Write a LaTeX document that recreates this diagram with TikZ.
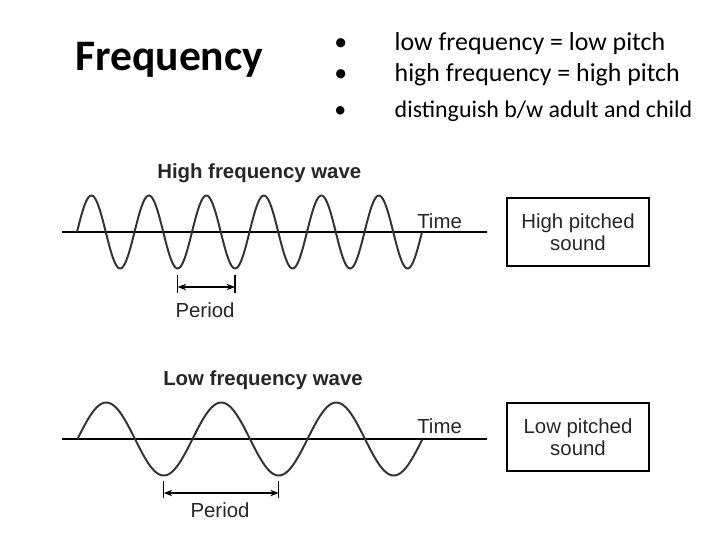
\documentclass[tikz,border=0pt]{standalone}
\usepackage{fontspec}
\setmainfont{Carlito}
\newfontfamily\diagfont{Liberation Sans}
\usetikzlibrary{arrows.meta, positioning}
\tikzset{
  wave/.style={
    draw=black!80,
    line width=1.4pt
  },
  timeaxis/.style={
    draw=black,
    line width=1pt
  },
  wavelabel/.style={
    inner sep=0pt,
    text=black!85,
    font=\diagfont\fontsize{14.5}{16}\selectfont
  },
  wavetitle/.style={
    wavelabel,
    font=\diagfont\bfseries\fontsize{14.5}{16}\selectfont
  },
  soundbox/.style={
    draw,
    line width=0.8pt,
    minimum width=3.55cm,
    minimum height=1.7cm,
    align=center,
    text=black!85,
    font=\diagfont\fontsize{14.5}{15.5}\selectfont
  },
  periodtick/.style={
    line width=1pt
  },
  periodarrow/.style={
    {Stealth[length=6pt,width=4.5pt]}-{Stealth[length=6pt,width=4.5pt]},
    line width=1pt
  },
  bullet/.style={
    anchor=base west,
    inner sep=0pt,
    font=\fontsize{18.4}{22}\selectfont
  }
}
\begin{document}
\begin{tikzpicture}[x=0.025cm, y=-0.025cm]
\useasboundingbox (0,0) rectangle (720,540);

% Heading and bullet points
\node[anchor=base west, inner sep=0pt, font=\bfseries\fontsize{31}{36}\selectfont] (title) at (75,70) {Frequency};
\node[bullet] (b1) at (334,50) {\makebox[43pt][l]{•}low frequency = low pitch};
\node[bullet] (b2) at (334,81) {\makebox[43pt][l]{•}high frequency = high pitch};
\node[bullet, font=\fontsize{17}{20}\selectfont] (b3) at (334,117) {\makebox[43pt][l]{•}distinguish b/w adult and child};

% High frequency wave
\node[wavetitle, anchor=base west] (hititle) at (157,178) {High frequency wave};
\coordinate (hstart) at (62,232);
\coordinate (hend) at (487,232);
\draw[timeaxis] (hstart) -- (hend);
\draw[wave] plot[domain=0:6, samples=240, smooth] ({77+57.5*\x},{232-36.5*sin(360*\x)});
\node[wavelabel, anchor=base west] (hitime) at (417,228) {Time};
\coordinate (hpa) at (177.6,287);
\coordinate (hpb) at (235.1,287);
\draw[periodtick] (hpa) ++(0,-12) -- ++(0,18);
\draw[periodtick] (hpb) ++(0,-12) -- ++(0,18);
\draw[periodarrow] (hpa) -- (hpb);
\node[wavelabel, anchor=base] (hiperiod) at (205,317) {Period};
\node[soundbox] (hibox) at (578,232) {High pitched\\sound};

% Low frequency wave
\node[wavetitle, anchor=base west] (lotitle) at (163,385) {Low frequency wave};
\coordinate (lstart) at (62,439);
\coordinate (lend) at (487,439);
\draw[timeaxis] (lstart) -- (lend);
\draw[wave] plot[domain=0:3, samples=200, smooth] ({77.5+115*\x},{439-36.5*sin(360*\x)});
\node[wavelabel, anchor=base west] (lotime) at (417,433) {Time};
\coordinate (lpa) at (163.75,493);
\coordinate (lpb) at (278.75,493);
\draw[periodtick] (lpa) ++(0,-12) -- ++(0,17);
\draw[periodtick] (lpb) ++(0,-12) -- ++(0,17);
\draw[periodarrow] (lpa) -- (lpb);
\node[wavelabel, anchor=base] (loperiod) at (220,517) {Period};
\node[soundbox] (lobox) at (578,437) {Low pitched\\sound};

\end{tikzpicture}
\end{document}
